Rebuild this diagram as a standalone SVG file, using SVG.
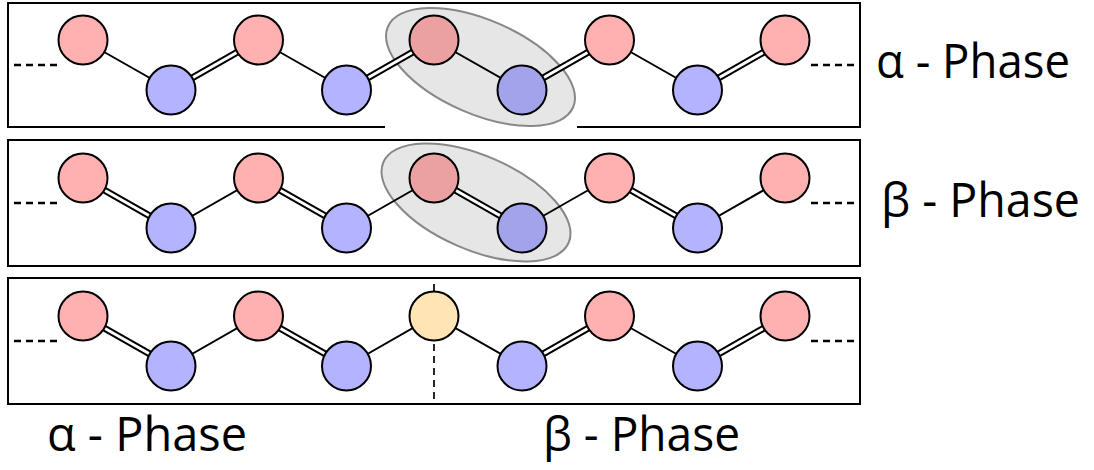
<svg xmlns="http://www.w3.org/2000/svg" width="1094" height="470" viewBox="0 0 1094 470">
  <style>
    .panel { fill: none; stroke: #000; stroke-width: 2; }
    .pink { fill: #FFB0B0; stroke: #000; stroke-width: 2; }
    .blue { fill: #B3B3FF; stroke: #000; stroke-width: 2; }
    .pink-hl { fill: #EBA1A1; stroke: #000; stroke-width: 2; }
    .blue-hl { fill: #A3A3EB; stroke: #000; stroke-width: 2; }
    .yellow { fill: #FFE4B5; stroke: #000; stroke-width: 2; }
    .single { stroke: #000; stroke-width: 2; fill: none; }
    .dbl-out { stroke: #000; stroke-width: 7; fill: none; }
    .dbl-in { stroke: #fff; stroke-width: 3; fill: none; }
    .dots { stroke: #000; stroke-width: 2.5; stroke-dasharray: 7 5; fill: none; }
    .divider { stroke: #000; stroke-width: 1.7; stroke-dasharray: 7 5; fill: none; }
    .group { fill: #E6E6E6; stroke: #888; stroke-width: 2; }
    .label { font-family: "Open Sans", "Noto Sans", sans-serif; font-size: 47px; fill: #000; }
  </style>

  <!-- panel frames -->
  <g id="frames">
    <path class="panel" d="M385 127 H8 V3 H860 V127 H577"/>
    <rect class="panel" x="8" y="140" width="852" height="126"/>
    <rect class="panel" x="8" y="278" width="852" height="126"/>
  </g>

  <!-- highlighted unit cells -->
  <g id="cell-alpha">
    <ellipse class="group" cx="480.5" cy="67" rx="101" ry="47" transform="rotate(23.5 480.5 67)"/>
  </g>
  <g id="cell-beta">
    <ellipse class="group" cx="476" cy="202.5" rx="101" ry="47" transform="rotate(23.5 476 202.5)"/>
  </g>

  <g id="connectors">
    <!-- chain continuation -->
    <path class="dots" d="M14 65 H57 M811 65 H855"/>
    <path class="dots" d="M14 203 H57 M811 203 H855"/>
    <path class="dots" d="M14 341 H57 M811 341 H855"/>
    <path class="divider" d="M434 284 V404"/>

    <!-- row 1: alpha -->
    <path class="single" d="M83 40 L171 90 M258.5 40 L346.5 90 M434 40 L522 90 M609.5 40 L697.5 90"/>
    <path class="dbl-out" d="M171 90 L258.5 40 M346.5 90 L434 40 M522 90 L609.5 40 M697.5 90 L785 40"/>
    <path class="dbl-in" d="M171 90 L258.5 40 M346.5 90 L434 40 M522 90 L609.5 40 M697.5 90 L785 40"/>

    <!-- row 2: beta -->
    <path class="single" d="M171 228 L258.5 178 M346.5 228 L434 178 M522 228 L609.5 178 M697.5 228 L785 178"/>
    <path class="dbl-out" d="M83 178 L171 228 M258.5 178 L346.5 228 M434 178 L522 228 M609.5 178 L697.5 228"/>
    <path class="dbl-in" d="M83 178 L171 228 M258.5 178 L346.5 228 M434 178 L522 228 M609.5 178 L697.5 228"/>

    <!-- row 3: alpha / beta boundary -->
    <path class="single" d="M171 366 L258.5 316 M346.5 366 L434 316 L522 366 M609.5 316 L697.5 366"/>
    <path class="dbl-out" d="M83 316 L171 366 M258.5 316 L346.5 366 M522 366 L609.5 316 M697.5 366 L785 316"/>
    <path class="dbl-in" d="M83 316 L171 366 M258.5 316 L346.5 366 M522 366 L609.5 316 M697.5 366 L785 316"/>
  </g>

  <!-- row 1 atoms -->
  <g id="a1-p1"><circle class="pink" cx="83" cy="40" r="24.5"/></g>
  <g id="a1-b1"><circle class="blue" cx="171" cy="90" r="24.5"/></g>
  <g id="a1-p2"><circle class="pink" cx="258.5" cy="40" r="24.5"/></g>
  <g id="a1-b2"><circle class="blue" cx="346.5" cy="90" r="24.5"/></g>
  <g id="a1-p3"><circle class="pink-hl" cx="434" cy="40" r="24.5"/></g>
  <g id="a1-b3"><circle class="blue-hl" cx="522" cy="90" r="24.5"/></g>
  <g id="a1-p4"><circle class="pink" cx="609.5" cy="40" r="24.5"/></g>
  <g id="a1-b4"><circle class="blue" cx="697.5" cy="90" r="24.5"/></g>
  <g id="a1-p5"><circle class="pink" cx="785" cy="40" r="24.5"/></g>

  <!-- row 2 atoms -->
  <g id="a2-p1"><circle class="pink" cx="83" cy="178" r="24.5"/></g>
  <g id="a2-b1"><circle class="blue" cx="171" cy="228" r="24.5"/></g>
  <g id="a2-p2"><circle class="pink" cx="258.5" cy="178" r="24.5"/></g>
  <g id="a2-b2"><circle class="blue" cx="346.5" cy="228" r="24.5"/></g>
  <g id="a2-p3"><circle class="pink-hl" cx="434" cy="178" r="24.5"/></g>
  <g id="a2-b3"><circle class="blue-hl" cx="522" cy="228" r="24.5"/></g>
  <g id="a2-p4"><circle class="pink" cx="609.5" cy="178" r="24.5"/></g>
  <g id="a2-b4"><circle class="blue" cx="697.5" cy="228" r="24.5"/></g>
  <g id="a2-p5"><circle class="pink" cx="785" cy="178" r="24.5"/></g>

  <!-- row 3 atoms -->
  <g id="a3-p1"><circle class="pink" cx="83" cy="316" r="24.5"/></g>
  <g id="a3-b1"><circle class="blue" cx="171" cy="366" r="24.5"/></g>
  <g id="a3-p2"><circle class="pink" cx="258.5" cy="316" r="24.5"/></g>
  <g id="a3-b2"><circle class="blue" cx="346.5" cy="366" r="24.5"/></g>
  <g id="a3-y"><circle class="yellow" cx="434" cy="316" r="24.5"/></g>
  <g id="a3-b3"><circle class="blue" cx="522" cy="366" r="24.5"/></g>
  <g id="a3-p4"><circle class="pink" cx="609.5" cy="316" r="24.5"/></g>
  <g id="a3-b4"><circle class="blue" cx="697.5" cy="366" r="24.5"/></g>
  <g id="a3-p5"><circle class="pink" cx="785" cy="316" r="24.5"/></g>

  <!-- phase labels -->
  <g id="labels">
    <text class="label" x="876" y="78" textLength="194" lengthAdjust="spacingAndGlyphs">α - Phase</text>
    <text class="label" x="881" y="217" textLength="199" lengthAdjust="spacingAndGlyphs">β - Phase</text>
    <text class="label" x="47" y="451" textLength="200" lengthAdjust="spacingAndGlyphs">α - Phase</text>
    <text class="label" x="543" y="451" textLength="197" lengthAdjust="spacingAndGlyphs">β - Phase</text>
  </g>
</svg>
